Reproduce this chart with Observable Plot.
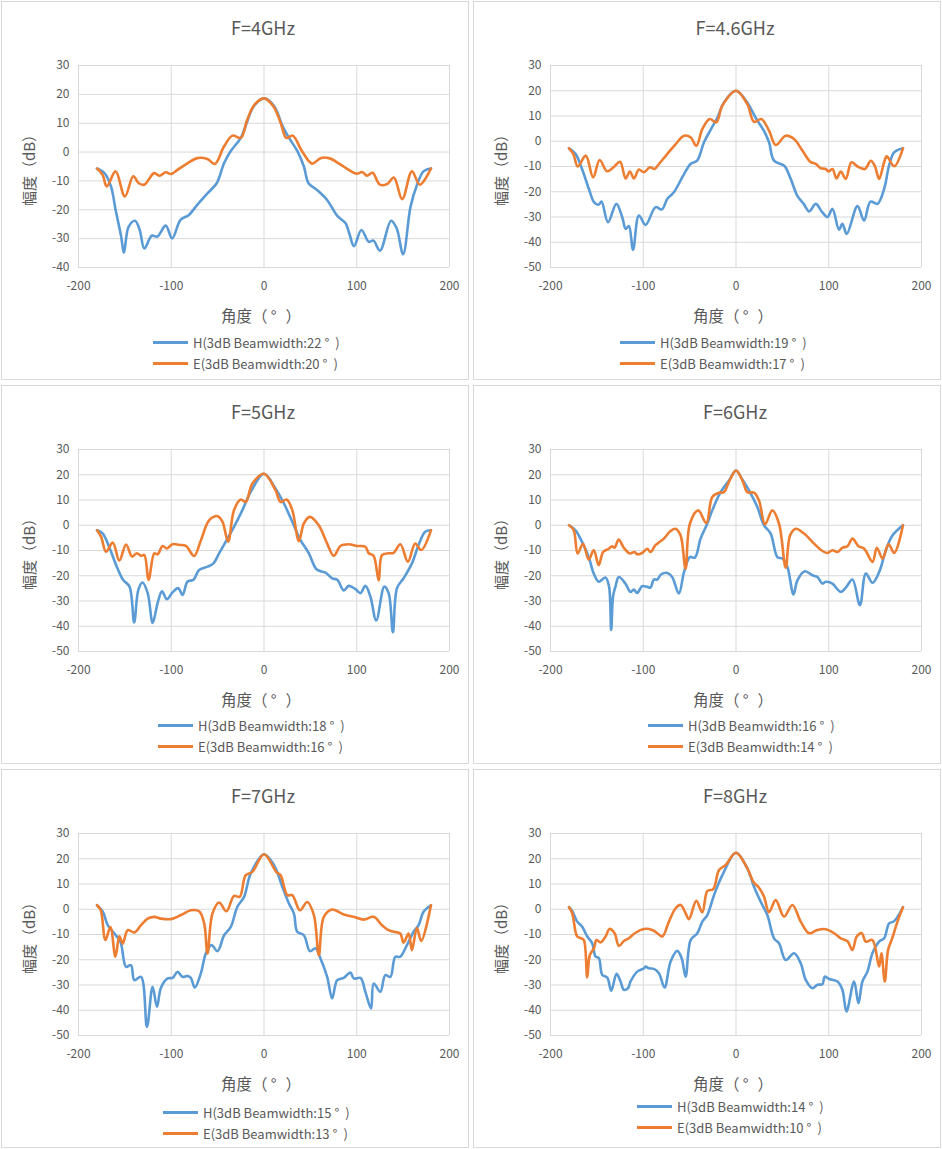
<!DOCTYPE html>
<html><head><meta charset="utf-8">
<script src="https://cdn.jsdelivr.net/npm/d3@7"></script>
<script src="https://cdn.jsdelivr.net/npm/@observablehq/plot@0.6"></script>
<style>
body{margin:0;background:#fff;font-family:"Noto Sans CJK SC","Noto Sans",sans-serif;color:#595959;}
#root{position:relative;width:942px;height:1149px;background:#fff;}
.panel{position:absolute;width:468px;height:379px;box-sizing:border-box;border:1px solid #d9d9d9;background:#fff;}
.panel svg{position:absolute;left:0;top:45px;}
.title{position:absolute;left:261px;top:13px;transform:translateX(-50%);font-size:18px;line-height:24px;white-space:nowrap;}
.xtitle{position:absolute;left:259px;top:302px;transform:translateX(-50%);font-size:15.5px;line-height:22px;white-space:nowrap;}
.xtitle .deg{margin:0 9px 0 3px;}
.leg{position:absolute;font-size:13px;line-height:18px;white-space:nowrap;}
.leg .row{display:flex;align-items:center;height:21px;}
.leg .sw{width:35px;height:3px;margin-right:5px;}
.leg .deg{margin:0 6px 0 3px;}
</style>
</head><body><div id="root"></div>
<script>
// ---- data ----
const titles = ["F=4GHz","F=4.6GHz","F=5GHz","F=6GHz","F=7GHz","F=8GHz"];
const hBeam = [22,19,18,16,15,14];
const eBeam = [20,17,16,14,13,10];
const yMins = [-40,-50,-50,-50,-50,-50];
const xTicks = [-200,-100,0,100,200];

const h4 = [[-180,-5.7],[-172,-7.3],[-165,-11.9],[-160,-20],[-154,-29.3],[-151,-34.9],[-146,-25.9],[-139,-23.8],[-134,-27],[-129,-33.4],[-121,-29],[-115,-29.3],[-106,-25.5],[-99,-29.9],[-90,-23.5],[-81,-21.8],[-72,-18.3],[-61,-14.3],[-51,-10.8],[-43,-3.8],[-36,0.3],[-25,4.9],[-18,10.7],[-11,15.9],[0,18.6],[11,15.9],[20,9],[27,4.9],[36,0.3],[43,-5],[48,-10.8],[57,-13.1],[68,-16.6],[79,-22.1],[88,-24.7],[92,-28.2],[97,-32.6],[105,-27],[113,-31.1],[118,-30.7],[125,-34.2],[137,-23.8],[143,-26.4],[150,-35.4],[158,-18.9],[165,-11.3],[172,-6.7],[180,-5.7]];
const e4 = [[-180,-5.7],[-174,-7.9],[-169.5,-11.9],[-160,-6.7],[-150,-15.4],[-141,-8.4],[-135,-10.8],[-129,-11.3],[-118.5,-7.3],[-112.5,-8.2],[-106,-7],[-100.5,-7.6],[-93,-6.1],[-83,-4],[-72,-2.1],[-61,-2.4],[-53,-4.1],[-43,2],[-34,5.7],[-25,4.9],[-18,11.3],[-10,16.5],[0,18.6],[10,15.9],[18,10.1],[24,4.9],[31,5.7],[41,0.3],[52,-4],[61,-2.1],[70,-2.1],[81,-4],[91,-6.1],[100,-7.5],[106,-6.9],[111,-8.2],[117,-7.2],[125,-11.3],[133,-11],[140,-8.8],[149,-16.3],[159.5,-6.7],[168,-11.3],[180,-5.7]];

const h46 = [[-180,-2.8],[-173,-5],[-166,-11],[-158.6,-18.9],[-153,-24.2],[-148,-25.1],[-145,-23.9],[-138,-32.1],[-129,-24.8],[-122.7,-30],[-119,-34.7],[-115.5,-33.6],[-111,-43],[-104.7,-29.4],[-97.5,-33.1],[-86.7,-26.1],[-80,-27],[-74,-22.8],[-67,-20.2],[-56,-13],[-49,-9],[-42,-7.7],[-34.5,-0.4],[-27,4.8],[-20,9.4],[-13,15.4],[0,20],[12,15.4],[21,9.4],[30,4.2],[35.6,-0.4],[41,-7.7],[52,-9.7],[59,-14.9],[66,-21.5],[73,-24.8],[79,-27.8],[86,-24.8],[93,-28.1],[98.6,-30],[104,-26.8],[111,-35],[114.7,-32.7],[119.4,-36.7],[131,-25.7],[138,-31.4],[145,-23.9],[152.5,-24.8],[159.7,-18.9],[165,-9.7],[170.5,-4.4],[180,-2.8]];
const e46 = [[-180,-2.8],[-175.5,-5],[-170.5,-10],[-162,-5.7],[-154,-14.3],[-147,-7.4],[-139,-11.9],[-132,-10.3],[-125,-8.1],[-119,-14.7],[-114.4,-12],[-110,-14.7],[-104.7,-11.2],[-99.3,-12.3],[-92.8,-10.3],[-87.8,-11],[-83,-9],[-74,-5],[-65,-1.1],[-56,2.2],[-49,1.6],[-42.8,-1.8],[-36.3,4.8],[-28.4,8.8],[-21.2,7.5],[-14.7,14.1],[0,20],[12.2,14.7],[19.4,7.7],[27.3,8.8],[35.6,4.2],[42.8,-1.5],[53.6,2.2],[62.6,0.9],[71.6,-3.7],[80,-8.1],[86,-9],[91.4,-10.7],[96.8,-11],[99.6,-12],[104,-11],[108.3,-14.7],[113,-12],[118.3,-14.9],[124.5,-8.3],[131,-10],[139,-11],[145.3,-7.7],[149.6,-9.7],[154.3,-14.9],[159.7,-8.3],[162.6,-6],[170.5,-9.9],[180,-2.8]];

const h5 = [[-180,-2],[-174,-3.2],[-167,-8.5],[-159.5,-15.7],[-152,-21.6],[-145,-24.3],[-140,-38.5],[-135.5,-25.6],[-131,-22.7],[-125.4,-26.9],[-120,-38.7],[-114.7,-30.8],[-110,-26.2],[-104.7,-29.3],[-98.6,-26.6],[-92.5,-24.9],[-87.8,-27.6],[-82.4,-22.3],[-76,-21.6],[-70,-17.7],[-61,-16.4],[-54.5,-15.1],[-48.4,-11.1],[-41.2,-6.5],[-32.3,-0.6],[-23.3,6],[-14.3,13.2],[0,20.4],[12.5,14.5],[21.5,8.6],[30.5,1.4],[39.4,-5.9],[48.4,-11.1],[56.6,-17.4],[66.3,-18.8],[73.5,-21],[79,-21.6],[86,-25.8],[91.4,-24],[98.6,-25.3],[104,-26.9],[109.3,-24],[114.7,-28.2],[121,-37.7],[129.7,-24.3],[134.4,-26.9],[139,-42.4],[143.4,-24.9],[150.5,-21],[159.5,-15.1],[166.7,-7.8],[173.8,-2.6],[180,-2]];
const e5 = [[-180,-2],[-175.6,-4.6],[-170.3,-10.5],[-163,-6.9],[-156,-14],[-148.7,-7.6],[-142.3,-12.4],[-137,-11.1],[-132.6,-12.1],[-129,-11.8],[-124.4,-21.6],[-118.3,-11.1],[-114.7,-11.5],[-109.3,-8.2],[-104.7,-9.2],[-98.6,-7.5],[-91.4,-7.8],[-84.2,-8.2],[-75.3,-12.2],[-68,-5.9],[-59,2],[-50,3.6],[-44.8,1.4],[-38.7,-6.5],[-32.3,6],[-25,10.2],[-19.7,9.2],[-12.5,16.5],[0,20.4],[12.5,13.8],[17.9,9.2],[24.4,10.2],[30.5,6],[37.6,-6.3],[43,0.7],[49.5,3.3],[59,0],[68,-7.2],[75.3,-12.1],[82.4,-8.2],[91.4,-7.5],[100.4,-8.2],[109.3,-8.5],[112.9,-11.1],[118,-12],[123.7,-21.9],[127.2,-11.8],[134.4,-11.1],[139.8,-10.9],[147,-7.5],[155.2,-14.4],[163,-7.2],[169.5,-9.8],[180,-2]];

const h6 = [[-180,0],[-173,-2],[-166,-6.6],[-158.8,-12.6],[-153.4,-19.1],[-148,-22.4],[-144.4,-21.5],[-140.8,-20.7],[-137,-24],[-134.6,-41.5],[-132.5,-28],[-130,-24.4],[-126.4,-20.5],[-119.2,-23.1],[-113.8,-26.4],[-110.2,-25.5],[-106.6,-26.8],[-101.2,-24.1],[-95.8,-24.4],[-92.2,-24.7],[-88.6,-21.5],[-85,-21.5],[-80.6,-19.4],[-74,-18.9],[-68.8,-20.5],[-61.6,-27],[-56,-18.5],[-49.7,-12.6],[-44.3,-12.8],[-38.2,-5.3],[-31,0.6],[-25.6,5.9],[-16.6,13.1],[-7,18],[0,21.7],[7,18],[14,13.8],[23,7.2],[30.2,0],[37.4,-3.3],[44.6,-12.6],[50,-13.2],[55.4,-16.5],[62,-27.4],[66.2,-21.8],[74.2,-18.2],[82.4,-19.8],[87.8,-20.5],[93.2,-23.1],[96.8,-22.4],[104,-23.1],[108.7,-25.1],[113,-26.4],[118.4,-24.7],[125.6,-21.5],[133.6,-31.7],[140,-19.1],[147.2,-22.8],[154.4,-18.5],[161.6,-9.9],[168.8,-4],[180,0]];
const e6 = [[-180,0],[-175,-2],[-170.7,-11.2],[-165,-7.3],[-158.8,-13.6],[-153.4,-9.9],[-148,-15.8],[-143.3,-10.6],[-137.2,-9.3],[-133.6,-8.3],[-131,-8.9],[-126.4,-5.7],[-121,-8.9],[-114.5,-11.2],[-109.4,-10.6],[-106.6,-11.5],[-101.2,-11],[-95.8,-9.3],[-92.2,-10.6],[-86.8,-7.9],[-77.8,-5.3],[-70.6,-2.3],[-65.2,-1.4],[-59.8,-4],[-54.4,-17.2],[-49.7,0.6],[-40.7,5.9],[-32,0.9],[-25.6,11.2],[-18.4,12.9],[-13,13.1],[-7,17.7],[0,21.7],[7,17.7],[12.2,13.1],[19.4,12.9],[24.8,9.8],[31.3,0.4],[39.2,5.9],[46.4,0.6],[53.6,-16.8],[58.3,-4],[64.4,-1.4],[73.4,-3.3],[84.2,-7.3],[91.4,-9.7],[98.6,-11],[104,-9.9],[109.4,-10.6],[114.8,-8.9],[120.2,-8.3],[125.6,-5.3],[132.1,-8.3],[138.2,-9.3],[147.2,-14.5],[151.9,-8.9],[158,-13.2],[164.5,-7.5],[170.6,-11],[180,0]];

const h7 = [[-180,1.6],[-173.8,-1],[-168.5,-6.3],[-161.3,-9.6],[-154.8,-12.9],[-148.7,-22.8],[-143.4,-22.1],[-139.8,-28.1],[-132.6,-26.8],[-126.2,-46.6],[-120.1,-30.7],[-115.4,-38.6],[-111.1,-31.1],[-103.9,-27.4],[-98.6,-27.2],[-93.2,-24.8],[-87.8,-26.8],[-82.4,-26.4],[-78.9,-27.2],[-74.6,-31],[-68.1,-25.4],[-62.7,-17.5],[-56.6,-14.2],[-50.2,-16.6],[-43,-10.3],[-35.8,-7],[-28.7,1],[-21.5,4.9],[-14.3,14.2],[0,21.8],[10.8,17.5],[19.7,8.9],[26.9,2.3],[32.3,-1.7],[35.8,-8.9],[43,-10.3],[49.5,-16.6],[55.6,-15.5],[60.9,-19.5],[68.1,-26.8],[73.5,-35.3],[78.9,-28.1],[86,-27.2],[93.2,-25.1],[96.8,-27.4],[104,-27.2],[109.3,-32.7],[115.4,-39.3],[118.3,-29.4],[125.4,-32.7],[130.8,-26.1],[136.2,-26.8],[141.6,-18.8],[146.9,-18.8],[154.1,-14.2],[161.3,-8.9],[166.7,-6.3],[172,-1],[180,1.6]];
const e7 = [[-180,1.6],[-176,-0.4],[-171,-12.2],[-165.6,-7],[-160.2,-18.8],[-155.9,-10.7],[-152.3,-13.6],[-147,-8.3],[-139.8,-9.2],[-132.6,-6.3],[-125.4,-3.7],[-118.3,-3],[-111.1,-3.7],[-100.4,-3.9],[-89.6,-2.3],[-78.9,-0.4],[-69.9,-0.8],[-64.5,-5.6],[-60.9,-17.5],[-55.6,-1.7],[-48.4,2.7],[-40.5,-0.8],[-32.3,5.3],[-26.2,4.9],[-19.7,13.5],[-12.5,14.8],[0,21.8],[13.6,14.6],[17.9,13.5],[25.1,5.6],[30.5,5.6],[38.7,-0.4],[46.6,2.9],[53.8,-2.3],[59.1,-18.2],[64.5,-3],[73.5,-0.1],[86,-2.1],[96.8,-3],[107.5,-4.1],[118.3,-3],[127.2,-6.3],[134.4,-8.3],[139.8,-8.9],[146.9,-9.6],[150.5,-13.2],[155.9,-9.6],[159.5,-16.2],[164.9,-7.4],[169.5,-12.6],[180,1.6]];

const h8 = [[-180,0.8],[-176.6,-0.7],[-171.2,-4.9],[-165.8,-6.9],[-160.4,-10.8],[-155,-13.5],[-151.4,-18.7],[-147.8,-19.4],[-144.2,-26],[-138.8,-27.1],[-134.5,-32.3],[-128.8,-25.6],[-124.5,-28.6],[-120.9,-31.9],[-116.5,-31.3],[-113.7,-28.6],[-106.5,-24.7],[-99.3,-23.4],[-97.5,-22.7],[-93.9,-23.4],[-88.5,-23.6],[-83.1,-25.3],[-77,-31],[-70.5,-20.7],[-63.3,-16.5],[-58.6,-19.4],[-54.3,-26.7],[-48.9,-12.2],[-41.7,-9.5],[-36.3,-4.9],[-30.9,-2.3],[-23.7,5.6],[-14.7,13.5],[0,22.4],[12.2,16.2],[19.4,8.9],[26.6,3],[33.8,-2.3],[41,-11.5],[46.4,-13.5],[53.6,-20.1],[62.6,-17.4],[69.8,-21.4],[75.2,-28],[82.4,-31.3],[87.8,-29.9],[93.2,-29.7],[95.7,-26.7],[100.4,-27.6],[109.4,-28.6],[114.7,-31.9],[119.1,-40.5],[127.3,-28.6],[132,-37.2],[136.3,-28.6],[141.7,-24.7],[147.1,-17.4],[154.3,-12.8],[159.7,-11.5],[165.1,-5.6],[170.5,-4.7],[180,0.8]];
const e8 = [[-180,0.8],[-176.6,-1.6],[-171.2,-10.8],[-166.9,-11.5],[-164,-12.2],[-160.4,-27],[-157.6,-18.1],[-153.2,-15.5],[-150.4,-12.2],[-146,-13.1],[-140.6,-10.8],[-136.3,-7.8],[-130.9,-9.5],[-126.3,-14.5],[-120.9,-12.6],[-115.5,-11.5],[-108.3,-9.3],[-99.3,-7.8],[-90.3,-8.2],[-84.9,-9.5],[-79.5,-10.8],[-72.3,-4.9],[-65.1,0.4],[-59.7,1.7],[-54.3,-1.6],[-50.7,-3.9],[-42.8,3.3],[-36.3,-1.2],[-30.9,7.2],[-24.5,8],[-18.3,15.5],[-11.2,17.5],[0,22.4],[12.2,16.2],[18.7,10.9],[24.8,8.5],[30.2,5],[35.6,-1.2],[42.8,3.6],[51.8,-2.9],[60.8,1.7],[69.8,-4.9],[78.8,-9.5],[87.8,-8.2],[96.8,-7.9],[105.8,-9.5],[113,-11.5],[120.1,-12.6],[125.5,-16.1],[130.2,-10.8],[135.6,-9.5],[139.9,-12.8],[147.1,-12.2],[154.3,-22.7],[156.8,-17.4],[160.4,-28.6],[164,-16.1],[168.7,-11.2],[174.1,-4.9],[180,0.8]];

const hSeries = [h4,h46,h5,h6,h7,h8];
const eSeries = [e4,e46,e5,e6,e7,e8];

// ---- layout ----
const panelLeft = [1,473,1,473,1,473];
const panelTop = [1,1,385,385,769,769];
const legLeft = [151,146,156,174,161,163];
const legTop = [330,330,329,329,332,326];
const BLUE = "#5B9BD5", ORANGE = "#ED7D31", GRID = "#d9d9d9", TEXT = "#595959";
const FONT = '"Noto Sans CJK SC","Noto Sans",sans-serif';

const root = document.getElementById("root");
for (let i = 0; i < 6; i++) {
  const panel = document.createElement("div");
  panel.className = "panel";
  panel.style.left = panelLeft[i] + "px";
  panel.style.top = panelTop[i] + "px";

  const t = document.createElement("div");
  t.className = "title"; t.textContent = titles[i];
  panel.appendChild(t);

  const yTicks = d3.range(yMins[i], 31, 10);
  const chart = Plot.plot({
    width: 466, height: 260,
    marginLeft: 76, marginRight: 19, marginTop: 18, marginBottom: 40,
    style: {fontFamily: FONT, fontSize: "12px", color: TEXT, background: "transparent", overflow: "visible"},
    x: {domain: [-200, 200]},
    y: {domain: [yMins[i], 30]},
    marks: [
      Plot.gridX(xTicks, {stroke: GRID, strokeOpacity: 1}),
      Plot.gridY(yTicks, {stroke: GRID, strokeOpacity: 1}),
      Plot.axisX(xTicks, {tickSize: 0, tickPadding: 14, label: null, tickFormat: d => String(d)}),
      Plot.axisY(yTicks, {tickSize: 0, tickPadding: 9, label: null, tickFormat: d => String(d)}),
      Plot.line(hSeries[i], {x: d => d[0], y: d => d[1], stroke: BLUE, strokeWidth: 2.6, curve: "catmull-rom"}),
      Plot.line(eSeries[i], {x: d => d[0], y: d => d[1], stroke: ORANGE, strokeWidth: 2.6, curve: "catmull-rom"}),
      Plot.text(["幅度（dB）"], {frameAnchor: "left", text: d => d, rotate: -90, dx: -48, textAnchor: "middle", lineAnchor: "middle", fontSize: 15, fill: TEXT})
    ]
  });
  panel.appendChild(chart);

  const xt = document.createElement("div");
  xt.className = "xtitle";
  xt.innerHTML = '角度（<span class="deg">°</span>）';
  panel.appendChild(xt);

  const leg = document.createElement("div");
  leg.className = "leg";
  leg.style.left = legLeft[i] + "px";
  leg.style.top = legTop[i] + "px";
  leg.innerHTML =
    `<div class="row"><span class="sw" style="background:${BLUE}"></span><span>H(3dB Beamwidth:${hBeam[i]}<span class="deg">°</span>)</span></div>` +
    `<div class="row"><span class="sw" style="background:${ORANGE}"></span><span>E(3dB Beamwidth:${eBeam[i]}<span class="deg">°</span>)</span></div>`;
  panel.appendChild(leg);

  root.appendChild(panel);
}
</script>
</body></html>
